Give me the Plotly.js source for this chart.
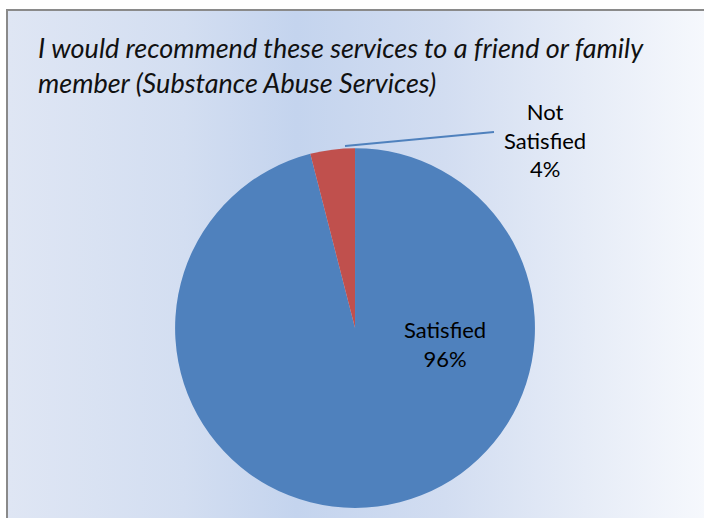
<!DOCTYPE html>
<html>
<head>
<meta charset="utf-8">
<script src="https://cdn.plot.ly/plotly-3.0.1.min.js"></script>
<style>
html,body{margin:0;padding:0;background:#fff;width:704px;height:518px;overflow:hidden;}
#frame{position:absolute;left:6px;top:9px;width:704px;height:520px;border-left:2px solid #8a8a8a;border-top:2px solid #8a8a8a;
background:linear-gradient(to right,#dfe6f4 0%,#d3def1 25%,#c4d4ee 41%,#d2ddf1 62%,#e6ecf7 82%,#f7f9fd 100%);}
#chart{position:absolute;left:0;top:0;width:704px;height:518px;}
</style>
</head>
<body>
<div id="frame"></div>
<div id="chart"></div>
<script>
var titleLines = ["I would recommend these services to a friend or family", "member (Substance Abuse Services)"];
var labels = ["Satisfied", "Not Satisfied"];
var values = [96, 4];
var pctText = ["96%", "4%"];
var colors = ["#4f81bd", "#c0504d"];

var font = "Lato, 'Open Sans', 'Liberation Sans', sans-serif";

var data = [{
  type: "pie",
  labels: labels,
  values: values,
  sort: false,
  direction: "clockwise",
  rotation: 0,
  textinfo: "none",
  hoverinfo: "label+percent",
  marker: {colors: colors, line: {width: 0}},
  domain: {x: [0.2486, 0.760], y: [0.0193, 0.714]},
  showlegend: false
}];

var layout = {
  width: 704, height: 518,
  margin: {l: 0, r: 0, t: 0, b: 0},
  paper_bgcolor: "rgba(0,0,0,0)",
  plot_bgcolor: "rgba(0,0,0,0)",
  showlegend: false,
  annotations: [
    {xref: "paper", yref: "paper", x: 36/704, y: 1 - 65/518, xanchor: "left", yanchor: "middle",
     text: "<i>" + titleLines[0] + "<br>" + titleLines[1] + "</i>", showarrow: false, align: "left",
     font: {family: font, size: 27, color: "#111"}},
    {xref: "paper", yref: "paper", x: 445/704, y: 1 - 344/518, xanchor: "center", yanchor: "middle",
     text: labels[0] + "<br>" + pctText[0], showarrow: false, align: "center",
     font: {family: font, size: 22, color: "#000"}},
    {xref: "paper", yref: "paper", x: 545/704, y: 1 - 140/518, xanchor: "center", yanchor: "middle",
     text: "Not<br>" + "Satisfied" + "<br>" + pctText[1], showarrow: false, align: "center",
     font: {family: font, size: 22, color: "#000"}}
  ],
  shapes: [
    {type: "line", xref: "paper", yref: "paper", x0: 345/704, y0: 1 - 146/518, x1: 494/704, y1: 1 - 132/518,
     line: {color: "#4f81bd", width: 2}}
  ]
};

Plotly.newPlot("chart", data, layout, {displayModeBar: false, staticPlot: true});
</script>
</body>
</html>
